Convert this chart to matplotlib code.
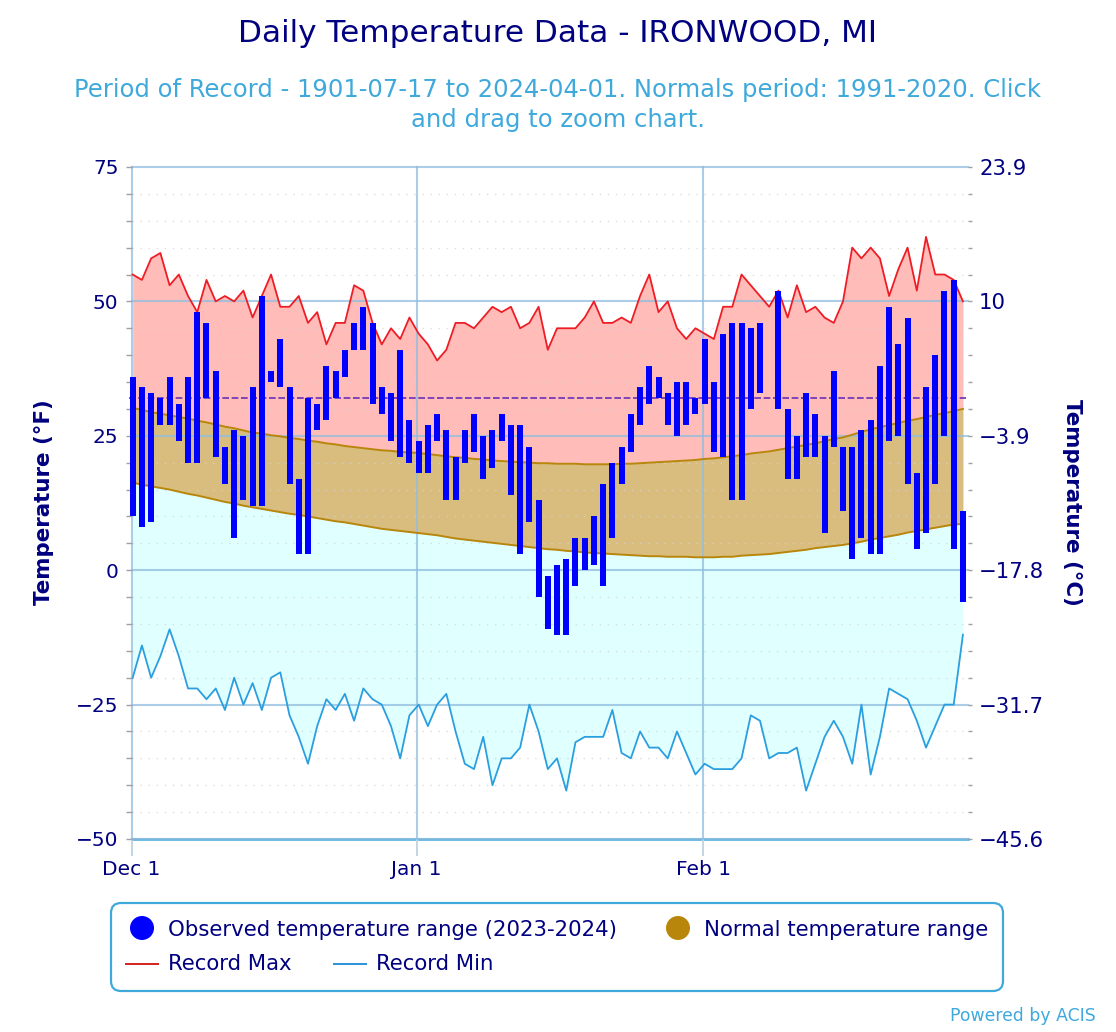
import numpy as np
import matplotlib
matplotlib.use('Agg')
import matplotlib.pyplot as plt
from matplotlib.patches import FancyBboxPatch, Circle

# Dec 1 2023 - Feb 29 2024, one value per day (deg F)
obs_high = [36, 34, 33, 32, 36, 31, 36, 48, 46, 37, 23, 26, 25, 34, 51, 37, 43, 34, 17, 32, 31, 38, 37, 41, 46, 49, 46, 34, 33, 41, 28, 24,
            27, 29, 26, 21, 26, 29, 25, 26, 29, 27, 27, 23, 13, -1, 1, 2, 6, 6, 10, 16, 20, 23, 29, 34, 38, 36, 33, 35, 35, 32, 43,
            35, 44, 46, 46, 45, 46, np.nan, 52, 30, 25, 33, 29, 25, 37, 23, 23, 26, 28, 38, 49, 42, 47, 18, 34, 40, 52, 54, 11]
obs_low = [10, 8, 9, 27, 27, 24, 20, 20, 32, 21, 16, 6, 13, 12, 12, 35, 34, 16, 3, 3, 26, 28, 32, 36, 41, 41, 31, 29, 24, 21, 20, 18,
           18, 24, 13, 13, 20, 22, 17, 19, 24, 14, 3, 9, -5, -11, -12, -12, -3, 0, 1, -3, 6, 16, 22, 27, 31, 32, 27, 25, 27, 29, 31,
           22, 21, 13, 13, 30, 33, np.nan, 30, 17, 17, 21, 21, 7, 23, 11, 2, 6, 3, 3, 24, 25, 16, 4, 7, 16, 25, 4, -6]
record_max = [55, 54, 58, 59, 53, 55, 51, 48, 54, 50, 51, 50, 52, 47, 51, 55, 49, 49, 51, 46, 48, 42, 46, 46, 53, 52, 46, 42, 45, 43, 47, 44,
              42, 39, 41, 46, 46, 45, 47, 49, 48, 49, 45, 46, 49, 41, 45, 45, 45, 47, 50, 46, 46, 47, 46, 51, 55, 48, 50, 45, 43, 45, 44,
              43, 49, 49, 55, 53, 51, 49, 52, 47, 53, 48, 49, 47, 46, 50, 60, 58, 60, 58, 51, 56, 60, 52, 62, 55, 55, 54, 50]
record_min = [-20, -14, -20, -16, -11, -16, -22, -22, -24, -22, -26, -20, -25, -21, -26, -20, -19, -27, -31, -36, -29, -24, -26, -23, -28, -22,
              -24, -25, -29, -35, -27, -25, -29, -25, -23, -30, -36, -37, -31, -40, -35, -35, -33, -25, -30, -37, -35, -41, -32, -31, -31, -31,
              -26, -34, -35, -30, -33, -33, -35, -30, -34, -38, -36, -37, -37, -37, -35, -27, -28, -35, -34, -34, -33, -41, -36, -31, -28, -31,
              -36, -25, -38, -31, -22, -23, -24, -28, -33, -29, -25, -25, -12]
normal_high = [30.2, 29.8, 29.4, 29.1, 28.8, 28.5, 28.2, 27.8, 27.5, 27.1, 26.7, 26.4, 26.0, 25.6, 25.4, 25.1, 24.9, 24.6, 24.4, 24.1, 23.9,
               23.6, 23.4, 23.1, 22.9, 22.7, 22.5, 22.3, 22.2, 22.0, 21.9, 21.8, 21.6, 21.4, 21.2, 21.0, 20.9, 20.7, 20.6, 20.4, 20.3, 20.2,
               20.1, 20.0, 19.9, 19.9, 19.8, 19.8, 19.8, 19.7, 19.7, 19.7, 19.7, 19.8, 19.8, 19.9, 20.0, 20.1, 20.2, 20.3, 20.4, 20.5, 20.7,
               20.8, 21.0, 21.2, 21.4, 21.7, 21.9, 22.1, 22.4, 22.7, 23.0, 23.3, 23.6, 24.0, 24.4, 24.7, 25.2, 25.7, 26.2, 26.6, 27.0, 27.4,
               27.8, 28.1, 28.5, 28.9, 29.2, 29.6, 30.0]
normal_low = [16.3, 15.9, 15.6, 15.3, 15.0, 14.6, 14.2, 13.9, 13.5, 13.1, 12.7, 12.4, 12.0, 11.7, 11.4, 11.1, 10.8, 10.5, 10.3, 10.0, 9.7,
              9.4, 9.1, 8.9, 8.6, 8.3, 8.0, 7.7, 7.5, 7.3, 7.1, 6.9, 6.7, 6.5, 6.2, 5.9, 5.7, 5.5, 5.3, 5.1, 4.9, 4.7, 4.5, 4.3, 4.1, 3.9,
              3.8, 3.6, 3.5, 3.3, 3.2, 3.1, 3.0, 2.9, 2.8, 2.7, 2.6, 2.6, 2.5, 2.5, 2.5, 2.4, 2.4, 2.4, 2.5, 2.5, 2.7, 2.8, 2.9, 3.0, 3.2,
              3.4, 3.6, 3.8, 4.1, 4.3, 4.5, 4.7, 5.0, 5.3, 5.7, 6.0, 6.3, 6.6, 7.0, 7.3, 7.6, 7.9, 8.2, 8.5, 8.6]
month_labels = ['Dec 1', 'Jan 1', 'Feb 1']
month_ticks = [-0.13, 30.78, 61.85]
freezing = 32

NAVY = '#000080'
SKY = '#3fa9dc'
GRID = '#8fbde0'

W, H = 1116, 1032
days = np.arange(len(record_max))
obs_high = np.array(obs_high, dtype=float)
obs_low = np.array(obs_low, dtype=float)

plt.rcParams['font.family'] = 'DejaVu Sans'
fig = plt.figure(figsize=(W / 100, H / 100), dpi=100)
ax = fig.add_axes([131.5 / W, 1 - 839 / H, (968 - 131.5) / W, (839 - 167) / H])

# shaded bands
ax.fill_between(days, normal_high, record_max, color='#ffbcb8', lw=0, zorder=1)
ax.fill_between(days, normal_low, normal_high, color='#d9bd7e', lw=0, zorder=1)
ax.fill_between(days, record_min, normal_low, color='#e0ffff', lw=0, zorder=1)

ax.plot(days, normal_high, color='#b8860b', lw=1.4, zorder=3)
ax.plot(days, normal_low, color='#b8860b', lw=1.4, zorder=3)
ax.plot(days, record_max, color='#ee1c25', lw=1.3, zorder=3, clip_on=False)
ax.plot(days, record_min, color='#2a9fe0', lw=1.3, zorder=3, clip_on=False)

ax.plot([-0.45, 90.3], [freezing, freezing], color='#6a2fb8', lw=1.2, ls=(0, (4, 1.6)), zorder=3, clip_on=False)
ax.bar(days, obs_high - obs_low, bottom=obs_low, width=0.65, color='#0000ff', zorder=4, clip_on=False)

ax.set_xlim(-0.13, 90.55)
ax.set_ylim(-50, 75)
ax.set_xticks(month_ticks)
ax.set_xticklabels(month_labels)
ax.set_yticks(np.arange(-50, 76, 25))
ax.set_yticks(np.arange(-50, 76, 5), minor=True)
ax.set_yticklabels([str(v).replace('-', '\u2212') for v in range(-50, 76, 25)])

ax.set_axisbelow(False)
ax.grid(True, which='major', color=GRID, alpha=0.75, lw=1.5)
ax.grid(True, which='minor', axis='y', color='#d4d4d4', alpha=0.75, lw=1.0, ls=(0, (1, 4.8)))
# the Dec 1 and top lines sit on the axes edge
for line in ax.get_xgridlines() + ax.get_ygridlines():
    line.set_clip_on(False)
ax.tick_params(axis='y', which='major', length=4.3, width=1, color='#a0a0a8', labelsize=14.5, labelcolor=NAVY, pad=5)
ax.tick_params(axis='y', which='minor', length=4.3, width=1, color='#a0a0a0')
ax.tick_params(axis='x', length=12, width=1.4, color='#c4d4e4', labelsize=14.5, labelcolor=NAVY, pad=3)
for name in ['top', 'left', 'right']:
    ax.spines[name].set_visible(False)
ax.spines['bottom'].set_color(SKY)
ax.spines['bottom'].set_linewidth(1.8)

# right hand axis in deg C
ax2 = ax.twinx()
ax2.set_ylim(-50, 75)
ax2.set_yticks(np.arange(-50, 76, 25))
ax2.set_yticks(np.arange(-50, 76, 5), minor=True)
ax2.set_yticklabels([f'{(v - 32) * 5 / 9:g}' if v == 50 else f'{(v - 32) * 5 / 9:.1f}'.replace('-', '\u2212')
                     for v in range(-50, 76, 25)])
ax2.tick_params(axis='y', which='major', length=3, width=1, color='#a0a0a0', labelsize=15.3, labelcolor=NAVY, pad=5)
ax2.tick_params(axis='y', which='minor', length=3, width=1, color='#a0a0a0')
for name in ax2.spines:
    ax2.spines[name].set_visible(False)

# everything outside the plot area, in pixel coordinates
ov = fig.add_axes([0, 0, 1, 1], zorder=5)
ov.set_xlim(0, W)
ov.set_ylim(H, 0)
ov.axis('off')
ov.patch.set_alpha(0)

ov.text(558, 33, 'Daily Temperature Data - IRONWOOD, MI', color=NAVY, fontsize=22.4, ha='center', va='center')
ov.text(558, 90, 'Period of Record - 1901-07-17 to 2024-04-01. Normals period: 1991-2020. Click',
        color=SKY, fontsize=17.5, ha='center', va='center')
ov.text(558, 120, 'and drag to zoom chart.', color=SKY, fontsize=17.5, ha='center', va='center')
ov.text(44, 502, 'Temperature (°F)', color=NAVY, fontsize=15.4, fontweight='bold', rotation=90, ha='center', va='center')
ov.text(1072, 502, 'Temperature (°C)', color=NAVY, fontsize=15.4, fontweight='bold', rotation=270, ha='center', va='center')

ov.add_patch(FancyBboxPatch((111, 903), 892, 88, boxstyle='round,pad=0,rounding_size=10', fc='white', ec=SKY, lw=1.6))
ov.add_patch(Circle((142, 928), 12, fc='#0000ff', ec='none'))
ov.add_patch(Circle((678, 928), 12, fc='#b8860b', ec='none'))
ov.plot([126, 158], [964, 964], color='#d42020', lw=1.4)
ov.plot([334, 366], [964, 964], color='#2a90d8', lw=1.4)
ov.text(168, 930, 'Observed temperature range (2023-2024)', color=NAVY, fontsize=15.3, va='center')
ov.text(704, 930, 'Normal temperature range', color=NAVY, fontsize=15.3, va='center')
ov.text(168, 964, 'Record Max', color=NAVY, fontsize=15.3, va='center')
ov.text(376, 964, 'Record Min', color=NAVY, fontsize=15.3, va='center')
ov.text(1096, 1016, 'Powered by ACIS', color=SKY, fontsize=12.4, ha='right', va='center')

plt.savefig('out.png', dpi=100)
plt.close()
